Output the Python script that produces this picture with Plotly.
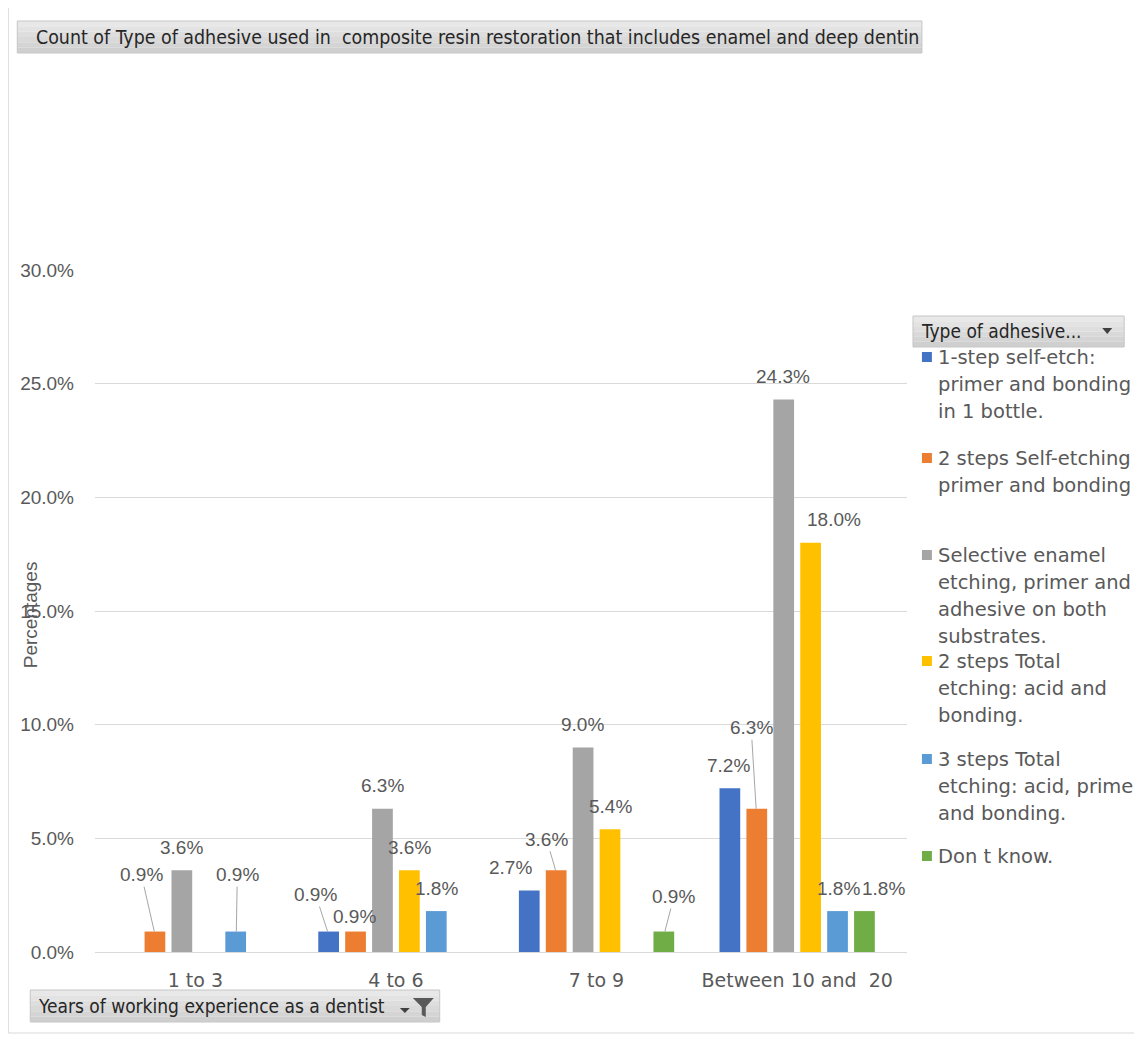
import plotly.graph_objects as go

# ---------------- data ----------------
categories = ["1 to 3", "4 to 6", "7 to 9", "Between 10 and  20"]
series_names = [
    "1-step self-etch: primer and bonding in 1 bottle.",
    "2 steps Self-etching primer and bonding",
    "Selective enamel etching, primer and adhesive on both substrates.",
    "2 steps Total etching: acid and bonding.",
    "3 steps Total etching: acid, prime and bonding.",
    "Don t know.",
]
one_step_self_etch = [None, 0.9, 2.7, 7.2]
two_step_self_etch = [0.9, 0.9, 3.6, 6.3]
selective_enamel = [3.6, 6.3, 9.0, 24.3]
two_step_total = [None, 3.6, 5.4, 18.0]
three_step_total = [0.9, 1.8, None, 1.8]
dont_know = [None, None, 0.9, 1.8]
series_values = [one_step_self_etch, two_step_self_etch, selective_enamel,
                 two_step_total, three_step_total, dont_know]
legend_lines = [
    ["1-step self-etch:", "primer and bonding", "in 1 bottle."],
    ["2 steps Self-etching", "primer and bonding"],
    ["Selective enamel", "etching, primer and", "adhesive on both", "substrates."],
    ["2 steps Total", "etching: acid and", "bonding."],
    ["3 steps Total", "etching: acid, prime", "and bonding."],
    ["Don t know."],
]
y_ticks = [0, 5, 10, 15, 20, 25, 30]
title_text = "Count of Type of adhesive used in  composite resin restoration that includes enamel and deep dentin"
x_button_text = "Years of working experience as a dentist"
legend_button_text = "Type of adhesive..."
y_title = "Percentages"

colors = ["#4472C4", "#ED7D31", "#A5A5A5", "#FFC000", "#5B9BD5", "#70AD47"]

# ---------------- layout geometry ----------------
PAGE = 8                      # default body margin of the html page
W, H = 1142 - PAGE, 1037 - PAGE
L, T = 92 - PAGE, 270 - PAGE
PW, PH = 815, 682
R, B = W - L - PW, H - T - PH
BARGAP, BARGROUPGAP = 0.195, 0.23
slot = PW / len(categories) * (1 - BARGAP) / len(series_values)


def xp(px):
    """screen x (reference px) -> paper"""
    return (px - PAGE - L) / PW


def yp(py):
    """screen y (reference px) -> paper"""
    return (T + PH - (py - PAGE)) / PH


def path(points):
    return "M " + " L ".join(f"{xp(a):.5f},{yp(b):.5f}" for a, b in points) + " Z"


LABEL_FONT = dict(family="Liberation Sans, Arial, sans-serif", size=19, color="#595959")
WIDE_FONT = "DejaVu Sans, Verdana, sans-serif"
NARROW_FONT = "Liberation Sans Narrow, Arial Narrow, DejaVu Sans Condensed, sans-serif"

fig = go.Figure()
for name, vals, col in zip(series_names, series_values, colors):
    fig.add_trace(go.Bar(x=categories, y=vals, name=name, marker=dict(color=col, line=dict(width=0)),
                         showlegend=False, hoverinfo="x+y+name"))

# data label nudges (dx, dy in px relative to bar-top centre, leader line?)
nudges = {
    (1, 0): (-13, -57, True), (4, 0): (1, -57, True),
    (0, 1): (-12, -37, True), (1, 1): (0, -15, False),
    (0, 2): (-18, -23, False), (1, 2): (-9, -31, True), (5, 2): (9, -35, True),
    (1, 3): (-5, -81, True), (3, 3): (23, -23, False), (5, 3): (18, -23, False),
}
annotations = []
for si, vals in enumerate(series_values):
    off = (si - (len(series_values) - 1) / 2) * slot
    for ci, v in enumerate(vals):
        if v is None:
            continue
        dx, dy, lead = nudges.get((si, ci), (0, -23, False))
        txt = f"{v:.1f}%"
        if lead:
            annotations.append(dict(x=categories[ci], y=v, xref="x", yref="y", text=txt, font=LABEL_FONT,
                                    showarrow=True, arrowhead=0, arrowwidth=1, arrowcolor="#a6a6a6",
                                    ax=dx, ay=dy, xshift=off, standoff=0))
        else:
            annotations.append(dict(x=categories[ci], y=v, xref="x", yref="y", text=txt, font=LABEL_FONT,
                                    showarrow=False, xshift=off + dx, yshift=-dy, yanchor="middle"))

shapes = []
# outer chart border
shapes.append(dict(type="rect", xref="paper", yref="paper", x0=xp(5), x1=xp(1138), y0=yp(1033), y1=yp(5),
                   line=dict(color="#d9d9d9", width=1), fillcolor="rgba(0,0,0,0)", layer="below"))


def button(x0, y0, x1, y1):
    # simple vertical gradient imitation
    tops = ["#e8e8e8", "#e3e3e3", "#dedede", "#d9d9d9", "#d4d4d4", "#cfcfcf"]
    n = len(tops)
    h = (y1 - y0) / n
    for k in range(n):
        shapes.append(dict(type="rect", xref="paper", yref="paper", x0=xp(x0), x1=xp(x1),
                           y0=yp(y0 + (k + 1) * h), y1=yp(y0 + k * h), line=dict(width=0),
                           fillcolor=tops[k], layer="above"))
    shapes.append(dict(type="rect", xref="paper", yref="paper", x0=xp(x0), x1=xp(x1), y0=yp(y1), y1=yp(y0),
                       line=dict(color="#c6c6c6", width=1), fillcolor="rgba(0,0,0,0)", layer="above"))


# title button
button(14, 21, 922, 53)
annotations.append(dict(xref="paper", yref="paper", x=xp(31), y=yp(37), xanchor="left", yanchor="middle",
                        text=title_text, showarrow=False, font=dict(family=NARROW_FONT, size=19.4, color="#262626")))
# legend button
button(913, 316, 1125, 347)
annotations.append(dict(xref="paper", yref="paper", x=xp(919), y=yp(331), xanchor="left", yanchor="middle",
                        text=legend_button_text, showarrow=False, font=dict(family=NARROW_FONT, size=19, color="#262626")))
shapes.append(dict(type="path", xref="paper", yref="paper", path=path([(1103, 328), (1113, 328), (1108, 334)]),
                   fillcolor="#404040", line=dict(width=0), layer="above"))
# x-axis field button
button(27, 990, 438, 1022)
annotations.append(dict(xref="paper", yref="paper", x=xp(33), y=yp(1006), xanchor="left", yanchor="middle",
                        text=x_button_text, showarrow=False, font=dict(family=NARROW_FONT, size=19, color="#262626")))
shapes.append(dict(type="path", xref="paper", yref="paper", path=path([(398, 1008), (408, 1008), (403, 1013)]),
                   fillcolor="#404040", line=dict(width=0), layer="above"))
shapes.append(dict(type="path", xref="paper", yref="paper",
                   path=path([(411, 998), (432, 998), (424, 1007), (424, 1017), (420, 1015), (420, 1007)]),
                   fillcolor="#595959", line=dict(width=0), layer="above"))

# custom legend
first_line_y = [357, 458, 555, 661, 759, 856]
for col, lines, y0 in zip(colors, legend_lines, first_line_y):
    shapes.append(dict(type="rect", xref="paper", yref="paper", x0=xp(922), x1=xp(932), y0=yp(y0 + 5), y1=yp(y0 - 5),
                       line=dict(width=0), fillcolor=col))
    for k, ln in enumerate(lines):
        annotations.append(dict(xref="paper", yref="paper", x=xp(936), y=yp(y0 + k * 27), xanchor="left",
                                yanchor="middle", text=ln, showarrow=False,
                                font=dict(family=WIDE_FONT, size=19.5, color="#595959")))

# y axis title
annotations.append(dict(xref="paper", yref="paper", x=xp(27), y=yp(615), xanchor="center", yanchor="middle",
                        text=y_title, textangle=-90, showarrow=False,
                        font=dict(family="Liberation Sans, Arial, sans-serif", size=19, color="#595959")))

fig.update_layout(
    width=W, height=H, autosize=False,
    margin=dict(l=L, r=R, t=T, b=B, pad=0),
    paper_bgcolor="white", plot_bgcolor="white",
    barmode="group", bargap=BARGAP, bargroupgap=BARGROUPGAP,
    showlegend=False,
    annotations=annotations, shapes=shapes,
    xaxis=dict(type="category", categoryorder="array", categoryarray=categories, showgrid=False,
               showline=False, ticks="", ticklabelstandoff=15,
               tickfont=dict(family=WIDE_FONT, size=19, color="#595959")),
    yaxis=dict(range=[0, 30], tickvals=y_ticks, ticktext=[f"{t:.1f}%" for t in y_ticks],
               showgrid=True, gridcolor="#d9d9d9", gridwidth=1, zeroline=True, zerolinecolor="#d9d9d9",
               zerolinewidth=1, showline=False, ticks="", ticklabelstandoff=20,
               tickfont=dict(family="Liberation Sans, Arial, sans-serif", size=19, color="#595959")),
)

fig.write_html("out.html")
